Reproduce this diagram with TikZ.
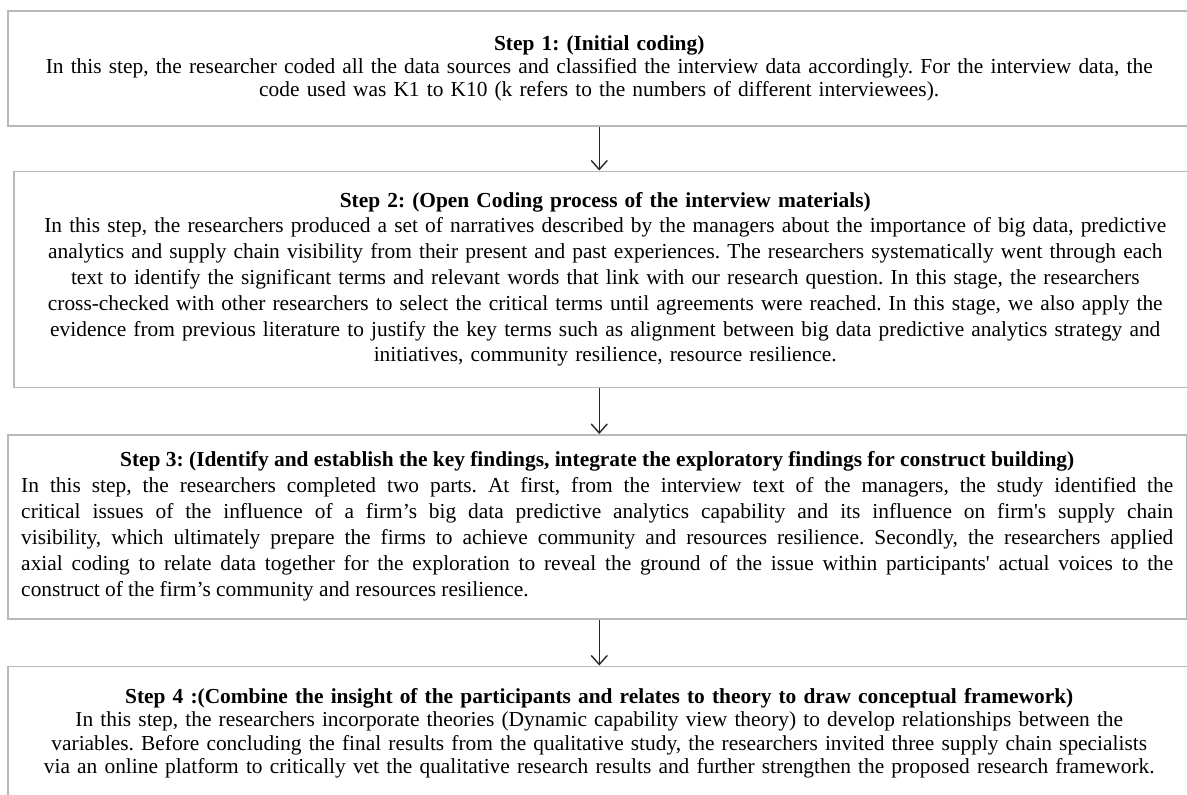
\documentclass[tikz,border=0pt]{standalone}
\usepackage{fontspec}
\setmainfont{Liberation Serif}
\usetikzlibrary{positioning, arrows.meta}
\tikzstyle{stepbox} = [rectangle, draw=black!28, line width=0.75pt, inner xsep=7pt, inner ysep=0pt, align=center, font=\fontsize{10.7}{12.9}\selectfont\frenchspacing]
\tikzstyle{arrow} = [line width=0.7pt, black!85, ->, >={Straight Barb[length=4.5pt,width=8pt]}]

\begin{document}
\begin{tikzpicture}[node distance=23pt]
    \useasboundingbox (0,0) rectangle (593.5pt,-397pt);
    \clip (0,0) rectangle (593.5pt,-397pt);
    \node (step1) [stepbox, anchor=north west, minimum width=591.5pt, minimum height=57.5pt, text width=577.5pt, font=\fontsize{10.7}{11.3}\selectfont\frenchspacing] at (3.5pt,-5pt)
        {\textbf{Step 1: (Initial coding)}\\
         In this step, the researcher coded all the data sources and classified the interview data accordingly. For the interview data, the\\
         code used was K1 to K10 (k refers to the numbers of different interviewees).};
    \node (step2) [stepbox, below=22pt of step1.south west, anchor=north west, xshift=3pt, minimum width=591.5pt, minimum height=108pt, text width=577.5pt]
        {\textbf{Step 2: (Open Coding process of the interview materials)}\\
         In this step, the researchers produced a set of narratives described by the managers about the importance of big data, predictive\\
         analytics and supply chain visibility from their present and past experiences. The researchers systematically went through each\\
         text to identify the significant terms and relevant words that link with our research question. In this stage, the researchers\\
         cross-checked with other researchers to select the critical terms until agreements were reached. In this stage, we also apply the\\
         evidence from previous literature to justify the key terms such as alignment between big data predictive analytics strategy and\\
         initiatives, community resilience, resource resilience.};
    % justified text in step 3
    \node (step3) [stepbox, below=23pt of step2.south west, anchor=north west, xshift=-3pt, minimum width=589.5pt, minimum height=92pt, text width=576pt, inner xsep=6.75pt, align=justify, font=\fontsize{10.7}{13}\selectfont\frenchspacing]
        {{\centering\textbf{Step 3: (Identify and establish the key findings, integrate the exploratory findings for construct building)}\par}
         In this step, the researchers completed two parts. At first, from the interview text of the managers, the study identified the\linebreak
         critical issues of the influence of a firm’s big data predictive analytics capability and its influence on firm\textquotesingle s supply chain\linebreak
         visibility, which ultimately prepare the firms to achieve community and resources resilience. Secondly, the researchers applied\linebreak
         axial coding to relate data together for the exploration to reveal the ground of the issue within participants\textquotesingle\ actual voices to the\linebreak
         construct of the firm’s community and resources resilience.};
    \node (step4) [stepbox, below=23pt of step3.south west, anchor=north west, minimum width=591.5pt, minimum height=67pt, text width=577.5pt, font=\fontsize{10.7}{11.7}\selectfont\frenchspacing]
        {\textbf{Step 4 :(Combine the insight of the participants and relates to theory to draw conceptual framework)}\\
         In this step, the researchers incorporate theories (Dynamic capability view theory) to develop relationships between the\\
         variables. Before concluding the final results from the qualitative study, the researchers invited three supply chain specialists\\
         via an online platform to critically vet the qualitative research results and further strengthen the proposed research framework.};

    \draw [arrow] (step1.south) -- (step1.south |- step2.north);
    \draw [arrow] (step2.south -| step1.south) -- (step3.north -| step1.south);
    \draw [arrow] (step3.south -| step1.south) -- (step4.north -| step1.south);
\end{tikzpicture}
\end{document}
